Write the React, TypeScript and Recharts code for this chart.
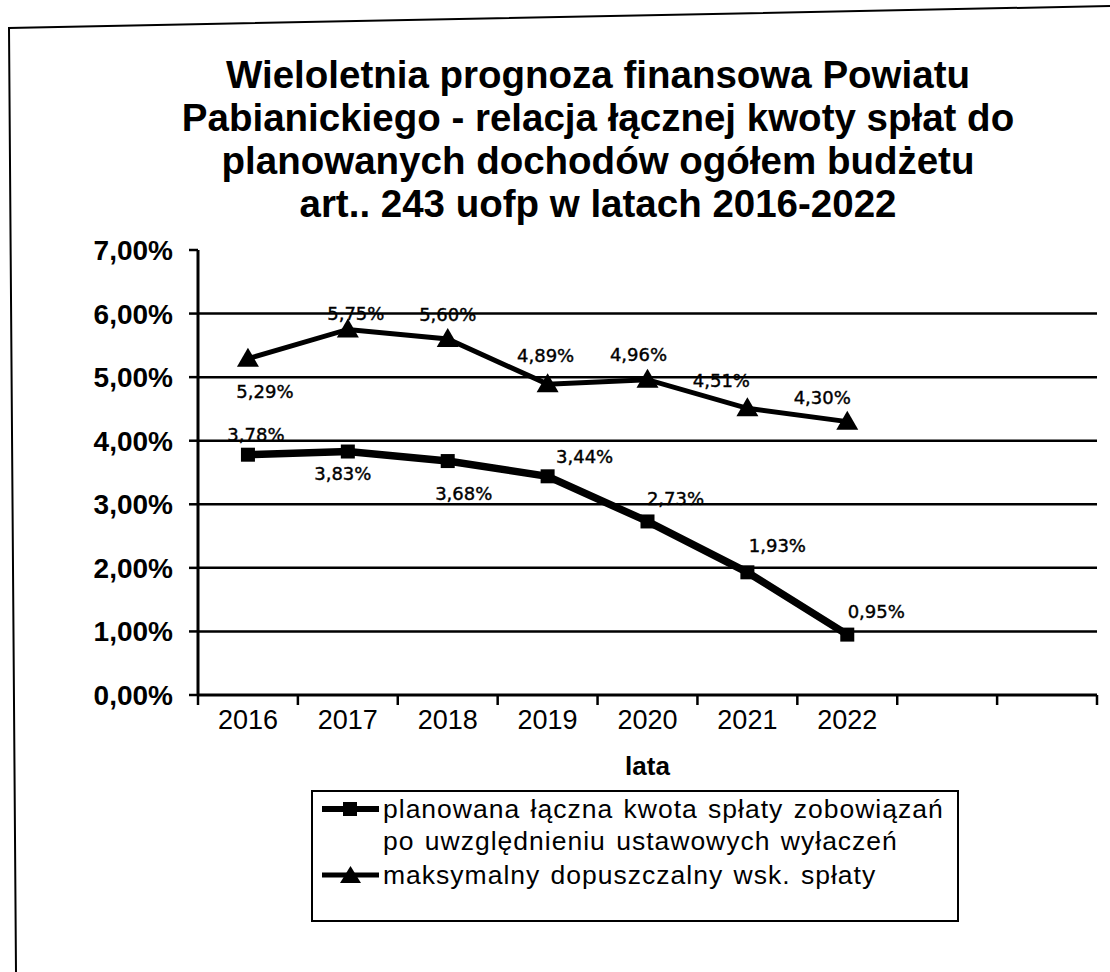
import React from 'react';
import { LineChart, Line, XAxis, YAxis, CartesianGrid, LabelList, Legend } from 'recharts';

// ---- data ----
const years = ['2016', '2017', '2018', '2019', '2020', '2021', '2022'];
const paddingCategories = ['', ' '];
const plannedRepayment = [3.78, 3.83, 3.68, 3.44, 2.73, 1.93, 0.95];
const maxAllowedRatio = [5.29, 5.75, 5.6, 4.89, 4.96, 4.51, 4.3];
const yTicks = [0, 1, 2, 3, 4, 5, 6, 7];
const gridValues = [1, 2, 3, 4, 5, 6];
const seriesNames = [
  'planowana łączna kwota spłaty zobowiązań\npo uwzględnieniu ustawowych wyłaczeń',
  'maksymalny dopuszczalny wsk. spłaty',
];
const titleLines = [
  'Wieloletnia prognoza finansowa Powiatu',
  'Pabianickiego - relacja łącznej kwoty spłat do',
  'planowanych dochodów ogółem budżetu',
  'art.. 243 uofp w latach 2016-2022',
];
const xAxisTitle = 'lata';

const data = [...years, ...paddingCategories].map((year, i) => ({
  year,
  planned: i < plannedRepayment.length ? plannedRepayment[i] : null,
  maxRatio: i < maxAllowedRatio.length ? maxAllowedRatio[i] : null,
}));

// ---- layout / style ----
const W = 1110;
const H = 972;
const PLOT_LEFT = 198;
const PLOT_RIGHT = 1097;
const PLOT_TOP = 250;
const PLOT_BOTTOM = 695;
const N_CAT = years.length + paddingCategories.length;
const BAND = (PLOT_RIGHT - PLOT_LEFT) / N_CAT;
const SANS = '"Liberation Sans", Arial, sans-serif';
const LABEL_FONT = '"DejaVu Sans", Verdana, sans-serif';

// label offsets relative to each point (style only)
const plannedLabelOffsets = [
  [8, -20], [-5, 22], [16, 32], [37, -20], [28, -23], [30, -27], [29, -23],
];
const maxLabelOffsets = [
  [17, 33], [8, -16], [0, -25], [-2, -29], [-9, -25], [-26, -28], [-25, -24],
];

const fmtPct = (v: number) => v.toFixed(2).replace('.', ',') + '%';

const makeLabel = (offsets: number[][]) => (props: any) => {
  const { x, y, value, index } = props;
  if (value === null || value === undefined || x == null || y == null) return null;
  const [dx, dy] = offsets[index] || [0, -20];
  return (
    <text
      x={x + dx}
      y={y + dy}
      textAnchor="middle"
      dominantBaseline="central"
      fontFamily={LABEL_FONT}
      fontSize={18}
      fill="#000"
      stroke="#000"
      strokeWidth={0.4}
    >
      {fmtPct(value)}
    </text>
  );
};

const SquareDot = (props: any) => {
  const { cx, cy, index } = props;
  if (cx == null || cy == null) return <g key={`s-${index}`} />;
  return <rect key={`s-${index}`} x={cx - 7} y={cy - 7} width={14} height={14} fill="#000" />;
};

const TriangleDot = (props: any) => {
  const { cx, cy, index } = props;
  if (cx == null || cy == null) return <g key={`t-${index}`} />;
  return (
    <polygon
      key={`t-${index}`}
      points={`${cx},${cy - 11} ${cx - 11},${cy + 8} ${cx + 11},${cy + 8}`}
      fill="#000"
    />
  );
};

const XTick = (props: any) => {
  const { x, payload, index } = props;
  const left = x - BAND / 2;
  return (
    <g>
      <line x1={left} y1={PLOT_BOTTOM} x2={left} y2={PLOT_BOTTOM + 10} stroke="#000" strokeWidth={2.5} />
      {index === N_CAT - 1 && (
        <line x1={x + BAND / 2} y1={PLOT_BOTTOM} x2={x + BAND / 2} y2={PLOT_BOTTOM + 10} stroke="#000" strokeWidth={2.5} />
      )}
      <text x={x} y={PLOT_BOTTOM + 25} textAnchor="middle" dominantBaseline="central" fontFamily={SANS} fontSize={27} fill="#000">
        {payload.value}
      </text>
    </g>
  );
};

const LegendContent = () => {
  const icon = (kind: number) => (
    <svg width={57} height={20} style={{ display: 'block', flex: 'none' }}>
      <line x1={0} y1={10} x2={57} y2={10} stroke="#000" strokeWidth={kind === 0 ? 6 : 5} />
      {kind === 0 ? (
        <rect x={21} y={3} width={14} height={14} fill="#000" />
      ) : (
        <polygon points="28.5,1 18,18 39,18" fill="#000" />
      )}
    </svg>
  );
  return (
    <div
      style={{
        boxSizing: 'border-box',
        width: 648,
        height: 132,
        border: '2px solid #000',
        background: '#fff',
        padding: '1px 0 0 9px',
        fontFamily: SANS,
        fontSize: 26.5,
        lineHeight: '32px',
        color: '#000',
        letterSpacing: 1,
        wordSpacing: 2,
        textAlign: 'left',
      }}
    >
      {seriesNames.map((name, i) => (
        <div key={i} style={{ display: 'flex', alignItems: 'flex-start', marginBottom: i === 0 ? 2 : 0 }}>
          <div style={{ marginTop: 6, marginRight: 4 }}>{icon(i)}</div>
          <div style={{ whiteSpace: 'pre-line' }}>{name}</div>
        </div>
      ))}
    </div>
  );
};

export default function App() {
  return (
    <div style={{ position: 'absolute', left: 0, top: 0, width: W, height: H, background: '#fff', overflow: 'hidden' }}>
      <svg width={W} height={H} style={{ position: 'absolute', left: 0, top: 0 }}>
        <polyline points={`16,${H} 9,28 ${W},6`} fill="none" stroke="#000" strokeWidth={2} />
        {titleLines.map((t, i) => (
          <text
            key={i}
            x={598}
            y={88 + i * 43}
            textAnchor="middle"
            fontFamily={SANS}
            fontWeight="bold"
            fontSize={38.5}
            fill="#000"
          >
            {t}
          </text>
        ))}
      </svg>
      <div style={{ position: 'absolute', left: 0, top: 0 }}>
        <LineChart
          width={W}
          height={H}
          data={data}
          margin={{ top: PLOT_TOP, right: W - PLOT_RIGHT, left: 0, bottom: 0 }}
        >
          <CartesianGrid
            vertical={false}
            horizontalValues={gridValues}
            stroke="#000"
            strokeWidth={2.5}
          />
          <XAxis
            dataKey="year"
            scale="band"
            height={H - PLOT_BOTTOM}
            axisLine={{ stroke: '#000', strokeWidth: 3 }}
            tickLine={false}
            tick={<XTick />}
            interval={0}
            allowDuplicatedCategory
            label={{
              value: xAxisTitle,
              position: 'insideTop',
              offset: 62,
              fill: '#000',
              fontSize: 26,
              fontWeight: 'bold',
              fontFamily: SANS,
            }}
          />
          <YAxis
            width={PLOT_LEFT}
            domain={[0, 7]}
            ticks={yTicks}
            tickFormatter={fmtPct}
            axisLine={{ stroke: '#000', strokeWidth: 3 }}
            tickLine={{ stroke: '#000', strokeWidth: 2.5 }}
            tickSize={9}
            tickMargin={16}
            tick={{ fill: '#000', fontSize: 28, fontWeight: 'bold', fontFamily: SANS }}
          />
          <Legend
            layout="vertical"
            verticalAlign="middle"
            align="center"
            content={<LegendContent />}
            wrapperStyle={{ left: 311, top: 790, width: 648, height: 132, right: 'auto', bottom: 'auto' }}
          />
          <Line
            type="linear"
            dataKey="planned"
            name={seriesNames[0]}
            stroke="#000"
            strokeWidth={7.5}
            dot={<SquareDot />}
            activeDot={false}
            isAnimationActive={false}
          >
            <LabelList dataKey="planned" content={makeLabel(plannedLabelOffsets)} />
          </Line>
          <Line
            type="linear"
            dataKey="maxRatio"
            name={seriesNames[1]}
            stroke="#000"
            strokeWidth={5}
            dot={<TriangleDot />}
            activeDot={false}
            isAnimationActive={false}
          >
            <LabelList dataKey="maxRatio" content={makeLabel(maxLabelOffsets)} />
          </Line>
        </LineChart>
      </div>
    </div>
  );
}
